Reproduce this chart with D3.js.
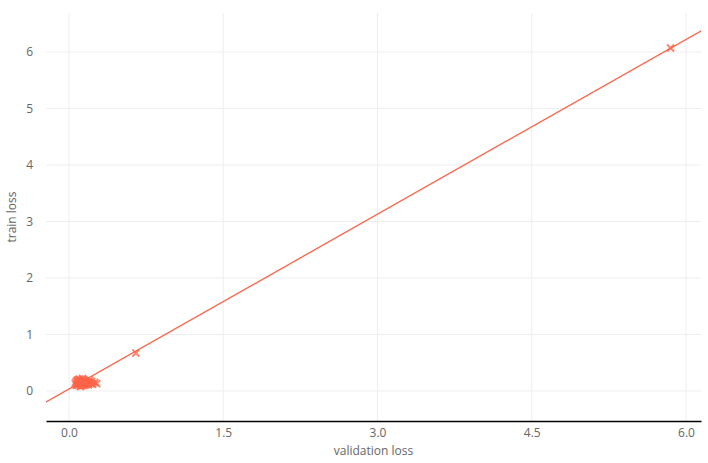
<!DOCTYPE html>
<html><head><meta charset="utf-8">
<script src="https://cdn.jsdelivr.net/npm/d3@7"></script>
<style>body{margin:0;background:#fff}svg text{font-family:"Open Sans",sans-serif}</style>
</head><body>
<svg id="c" width="708" height="463"></svg>
<script>
const valLoss = [5.85, 0.65,
 0.06,0.07,0.08,0.08,0.09,0.09,0.10,0.10,0.10,0.11,0.11,0.12,0.12,0.13,0.13,0.14,0.14,0.15,0.15,0.16,0.16,0.17,0.18,0.19,0.20,
 0.07,0.09,0.11,0.13,0.15,0.17,0.12,0.10,0.08,0.14,0.21,0.23,0.25,0.27,0.19,0.22];
const trainLoss = [6.07, 0.67,
 0.14,0.17,0.12,0.19,0.15,0.10,0.13,0.18,0.21,0.16,0.11,0.14,0.19,0.12,0.17,0.15,0.10,0.13,0.18,0.14,0.11,0.16,0.13,0.15,0.19,
 0.10,0.20,0.08,0.22,0.11,0.13,0.09,0.16,0.12,0.20,0.14,0.12,0.15,0.13,0.11,0.17];
const fitX = [-0.3, 6.3];
const fitY = [-0.273, 6.532];
const xTicks = [0, 1.5, 3, 4.5, 6];
const yTicks = [0, 1, 2, 3, 4, 5, 6];

const svg = d3.select("#c");
const L = 46, R = 701, T = 13, B = 421;
const x = d3.scaleLinear().domain([-0.224, 6.146]).range([L, R]);
const y = d3.scaleLinear().domain([-0.531, 6.69]).range([B, T]);

const g = svg.append("g");
g.selectAll(".gx").data(xTicks).join("line")
  .attr("x1", d => x(d)).attr("x2", d => x(d)).attr("y1", T).attr("y2", B)
  .attr("stroke", "#eee").attr("stroke-width", 1);
g.selectAll(".gy").data(yTicks).join("line")
  .attr("x1", L).attr("x2", R).attr("y1", d => y(d)).attr("y2", d => y(d))
  .attr("stroke", "#eee").attr("stroke-width", 1);

const xAxis = d3.axisBottom(x).tickValues(xTicks).tickFormat(d3.format(".1f")).tickSize(0).tickPadding(7);
const xg = svg.append("g").attr("transform", `translate(0,${B})`).call(xAxis);
xg.select(".domain").attr("stroke", "#000").attr("stroke-width", 1.5);
xg.selectAll("text").attr("fill", "#666").attr("font-size", 12);

const yAxis = d3.axisLeft(y).tickValues(yTicks).tickFormat(d3.format("d")).tickSize(0).tickPadding(13);
const yg = svg.append("g").attr("transform", `translate(${L},0)`).call(yAxis);
yg.select(".domain").remove();
yg.selectAll("text").attr("fill", "#666").attr("font-size", 12);

svg.append("text").attr("x", (L + R) / 2).attr("y", 455).attr("text-anchor", "middle")
  .attr("fill", "#666").attr("font-size", 12).text("validation loss");
svg.append("text").attr("transform", `translate(16,${(T + B) / 2}) rotate(-90)`).attr("text-anchor", "middle")
  .attr("fill", "#666").attr("font-size", 12).text("train loss");

svg.append("clipPath").attr("id", "clip").append("rect").attr("x", L).attr("y", T).attr("width", R - L).attr("height", B - T);
const p = svg.append("g").attr("clip-path", "url(#clip)");

p.append("line").attr("x1", x(fitX[0])).attr("y1", y(fitY[0])).attr("x2", x(fitX[1])).attr("y2", y(fitY[1]))
  .attr("stroke", "#ff6347").attr("stroke-width", 1.3);

const pts = valLoss.map((v, i) => [v, trainLoss[i]]);
const s = 3.5;
p.selectAll(".m").data(pts).join("path")
  .attr("transform", d => `translate(${x(d[0])},${y(d[1])})`)
  .attr("d", `M${-s},${-s}L${s},${s}M${-s},${s}L${s},${-s}`)
  .attr("stroke", "#ff6347").attr("stroke-width", 2).attr("stroke-opacity", 0.8).attr("fill", "none");
</script>
</body></html>
